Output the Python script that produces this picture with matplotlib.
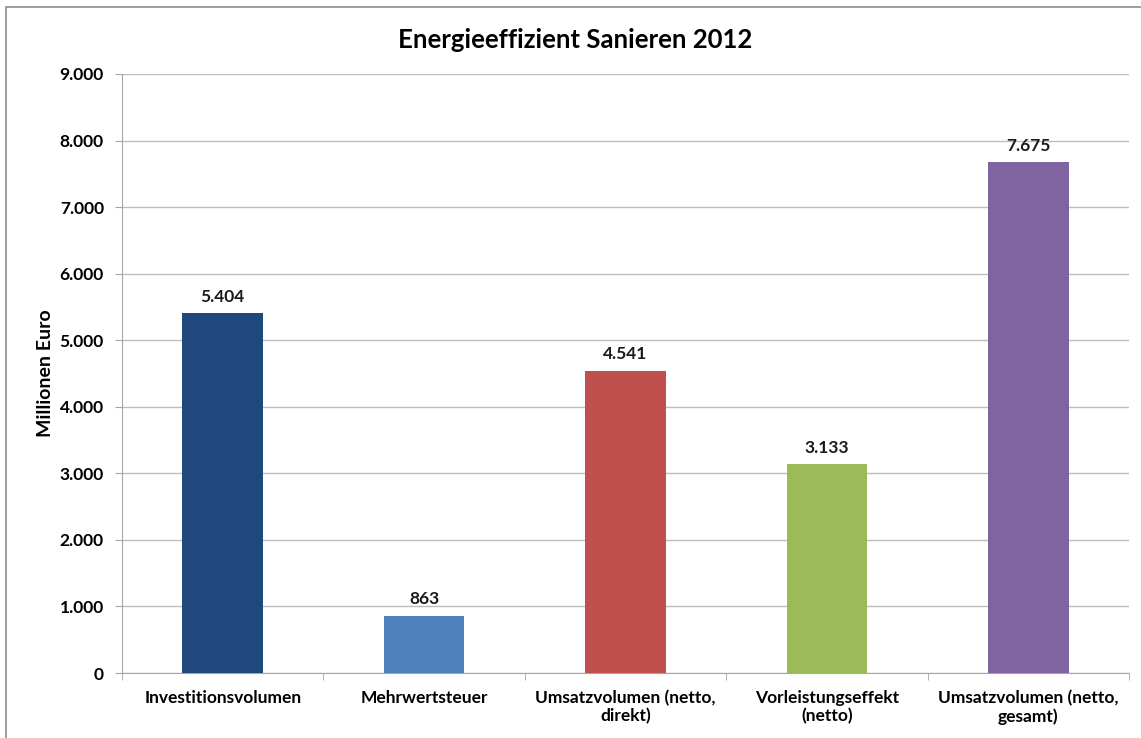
import numpy as np
import matplotlib
matplotlib.use("Agg")
from matplotlib import pyplot as plt
from matplotlib.patches import Rectangle
from matplotlib.ticker import FuncFormatter

# Daten
kategorien = ["Investitionsvolumen", "Mehrwertsteuer", "Umsatzvolumen (netto,\ndirekt)",
              "Vorleistungseffekt\n(netto)", "Umsatzvolumen (netto,\ngesamt)"]
werte = [5404, 863, 4541, 3133, 7675]
farben = ["#1F497D", "#4F81BD", "#C0504D", "#9BBB59", "#8064A2"]
y_ticks = [0, 1000, 2000, 3000, 4000, 5000, 6000, 7000, 8000, 9000]


def de_format(v, pos=None):
    return f"{int(round(v)):,}".replace(",", ".")


plt.rcParams['font.family'] = ['Lato', 'DejaVu Sans']

W, H = 1141, 738
fig = plt.figure(figsize=(W / 100, H / 100), dpi=100)

# Rahmen um das Diagramm
fig.patches.append(Rectangle((6 / W, -0.05), 1.2, 1 - 7 / H + 0.05, transform=fig.transFigure,
                             fill=False, edgecolor="#8C8C8C", linewidth=1.2))

ax = fig.add_axes([122 / W, 1 - 673 / H, (1129 - 122) / W, (673 - 74) / H])

x = np.arange(len(werte))
ax.bar(x, werte, width=0.4, color=farben, zorder=3)

for xi, v in zip(x, werte):
    ax.annotate(de_format(v), (xi, v), xytext=(0, 6), textcoords="offset points",
                ha="center", va="bottom", fontsize=12.5, fontweight="bold", color="#1a1a1a")

ax.set_xlim(-0.5, len(werte) - 0.5)
ax.set_ylim(0, 9000)
ax.set_yticks(y_ticks)
ax.yaxis.set_major_formatter(FuncFormatter(de_format))
ax.yaxis.grid(True, color="#BDBDBD", linewidth=1.0, zorder=0)

ax.set_xticks(x)
ax.set_xticklabels(kategorien, fontsize=12.5, fontweight="bold", linespacing=1.15)
ax.set_xticks(np.arange(len(werte) + 1) - 0.5, minor=True)
ax.tick_params(axis="x", which="major", length=0, pad=12)
ax.tick_params(axis="x", which="minor", length=5, color="#A6A6A6", direction="out")
ax.tick_params(axis="y", length=5, color="#A6A6A6", pad=8, labelsize=12.5)
for lab in ax.get_yticklabels():
    lab.set_fontweight("bold")

for s in ["top", "right"]:
    ax.spines[s].set_visible(False)
for s in ["left", "bottom"]:
    ax.spines[s].set_color("#A6A6A6")

ax.set_ylabel("Millionen Euro", fontsize=14, fontweight="bold")
ax.yaxis.set_label_coords((54 - 122) / (1129 - 122), 0.5)
fig.text(575 / W, 1 - 40 / H, "Energieeffizient Sanieren 2012", ha="center", va="center",
         fontsize=18.5, fontweight="bold")

fig.savefig("out.png", dpi=100)
